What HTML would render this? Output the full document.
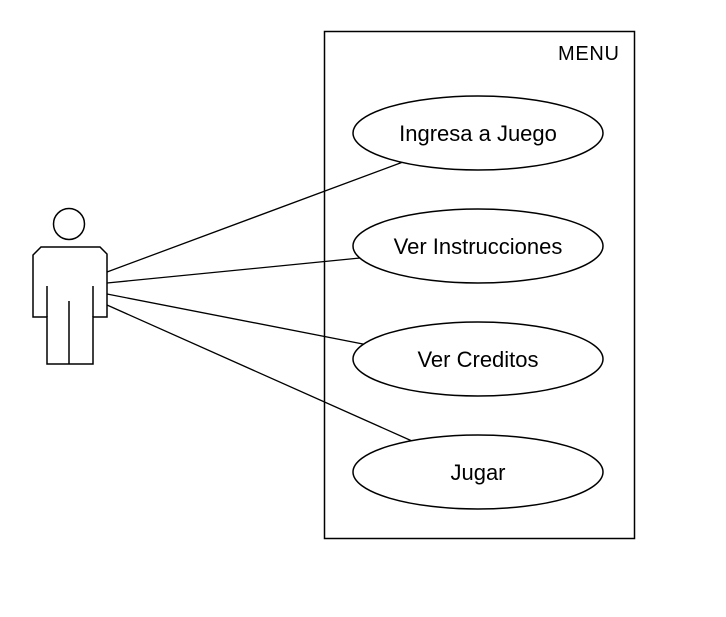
<!DOCTYPE html>
<html><head><meta charset="utf-8"><style>html,body{margin:0;padding:0;background:#fff;}svg{display:block}</style></head>
<body>
<svg width="726" height="617" viewBox="0 0 726 617" xmlns="http://www.w3.org/2000/svg">
<rect width="726" height="617" fill="#fff"/>
<rect x="324.5" y="31.5" width="310" height="507" fill="none" stroke="#000" stroke-width="1.5"/>
<text x="619" y="60" text-anchor="end" font-family="Liberation Sans, sans-serif" font-size="20" textLength="61">MENU</text>
<g stroke="#000" stroke-width="1.3" fill="none">
<line x1="107" y1="272" x2="403" y2="162"/>
<line x1="107" y1="283" x2="360" y2="258"/>
<line x1="107" y1="294" x2="368" y2="345"/>
<line x1="107" y1="305" x2="412" y2="441"/>
</g>
<g stroke="#000" stroke-width="1.5" fill="#fff">
<ellipse cx="478" cy="133" rx="125" ry="37"/>
<ellipse cx="478" cy="246" rx="125" ry="37"/>
<ellipse cx="478" cy="359" rx="125" ry="37"/>
<ellipse cx="478" cy="472" rx="125" ry="37"/>
</g>
<g font-family="Liberation Sans, sans-serif" font-size="22" text-anchor="middle" fill="#000">
<text x="478" y="141">Ingresa a Juego</text>
<text x="478" y="254">Ver Instrucciones</text>
<text x="478" y="367">Ver Creditos</text>
<text x="478" y="480">Jugar</text>
</g>
<g stroke="#000" stroke-width="1.5" fill="#fff">
<circle cx="69" cy="224" r="15.5"/>
<path d="M41,247 L100,247 L107,254 L107,317 L93,317 L93,364 L47,364 L47,317 L33,317 L33,255 Z"/>
<line x1="47" y1="286" x2="47" y2="317"/>
<line x1="93" y1="286" x2="93" y2="317"/>
<line x1="69" y1="301" x2="69" y2="364"/>
</g>
</svg>
</body></html>
